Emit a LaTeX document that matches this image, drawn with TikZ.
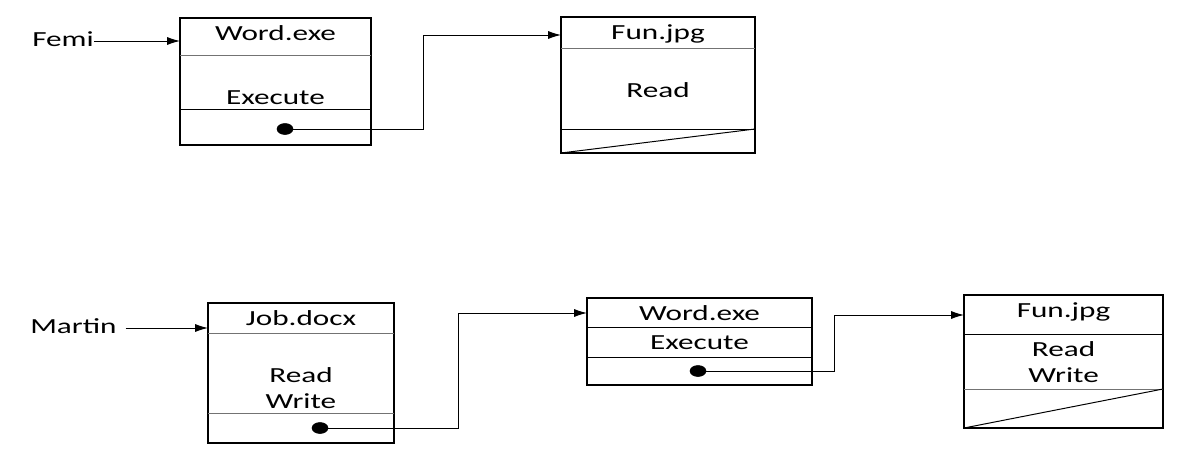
\documentclass[tikz,border=0pt]{standalone}
\usepackage{fontspec}
\usetikzlibrary{arrows.meta}
\newfontfamily\boxfont{Carlito}[FakeStretch=1.45]
\begin{document}
\begin{tikzpicture}[x=0.025cm, y=-0.025cm,
    lbl/.style={font=\boxfont\fontsize{15.3}{18}\selectfont, inner sep=0pt, anchor=base},
    cell/.style={draw, line width=0.9pt},
    thin/.style={draw=black!55, line width=0.6pt},
    sep/.style={draw, line width=0.7pt},
    link/.style={line width=0.7pt, -{Latex[length=0.32cm, width=0.2cm]}}]
    \useasboundingbox (0,0) rectangle (1200,461);

    % Femi
    \node[lbl, anchor=base west] (femi) at (32,46){Femi};
    \coordinate (wordA-in) at (180,41);
    \draw[cell] (180,18) rectangle (371,145);
    \draw[thin] (180,55) -- (371,55);
    \draw[sep] (180,109) -- (371,109);
    \node[lbl] (wordA) at (275.5,40){Word.exe};
    \node[lbl] (execA) at (275.5,104){Execute};
    \coordinate (dotA) at (285,129);
    \coordinate (jogA) at (423,129);

    \coordinate (funA-in) at (561,35);
    \draw[cell] (561,17) rectangle (755,153);
    \draw[thin] (561,48) -- (755,48);
    \draw[sep] (561,129) -- (755,129);
    \draw[sep] (561,153) -- (755,129);
    \node[lbl] (funA) at (658,39){Fun.jpg};
    \node[lbl] (readA) at (658,97){Read};

    \draw[link] (femi.east |- wordA-in) -- (wordA-in);
    \draw[link] (dotA) -- (jogA) |- (funA-in);
    \filldraw (dotA) ellipse (8 and 5.5);

    % Martin
    \node[lbl, anchor=base west] (martin) at (30,333){Martin};
    \coordinate (jobB-in) at (208,328);
    \draw[cell] (208,303) rectangle (394,443);
    \draw[thin] (208,333) -- (394,333);
    \draw[thin] (208,413) -- (394,413);
    \node[lbl] (jobB) at (301,325){Job.docx};
    \node[lbl] (readB) at (301,382){Read};
    \node[lbl] (writeB) at (301,408){Write};
    \coordinate (dotB) at (320,428);
    \coordinate (jogB) at (458,428);

    \coordinate (wordB-in) at (587,313);
    \draw[cell] (587,298) rectangle (812,385);
    \draw[sep] (587,327) -- (812,327);
    \draw[sep] (587,357) -- (812,357);
    \node[lbl] (wordB) at (699.5,320){Word.exe};
    \node[lbl] (execB) at (699.5,349){Execute};
    \coordinate (dotC) at (698,371);
    \coordinate (jogC) at (834,371);

    \coordinate (funB-in) at (964,315);
    \draw[cell] (964,295) rectangle (1163,428);
    \draw[sep] (964,334) -- (1163,334);
    \draw[thin] (964,389) -- (1163,389);
    \draw[sep] (964,428) -- (1163,389);
    \node[lbl] (funB) at (1063.5,317){Fun.jpg};
    \node[lbl] (readC) at (1063.5,356){Read};
    \node[lbl] (writeC) at (1063.5,382){Write};

    \draw[link] ([xshift=0.22cm]martin.east |- jobB-in) -- (jobB-in);
    \draw[link] (dotB) -- (jogB) |- (wordB-in);
    \draw[link] (dotC) -- (jogC) |- (funB-in);
    \filldraw (dotB) ellipse (8 and 5.5);
    \filldraw (dotC) ellipse (8 and 5.5);
\end{tikzpicture}
\end{document}
